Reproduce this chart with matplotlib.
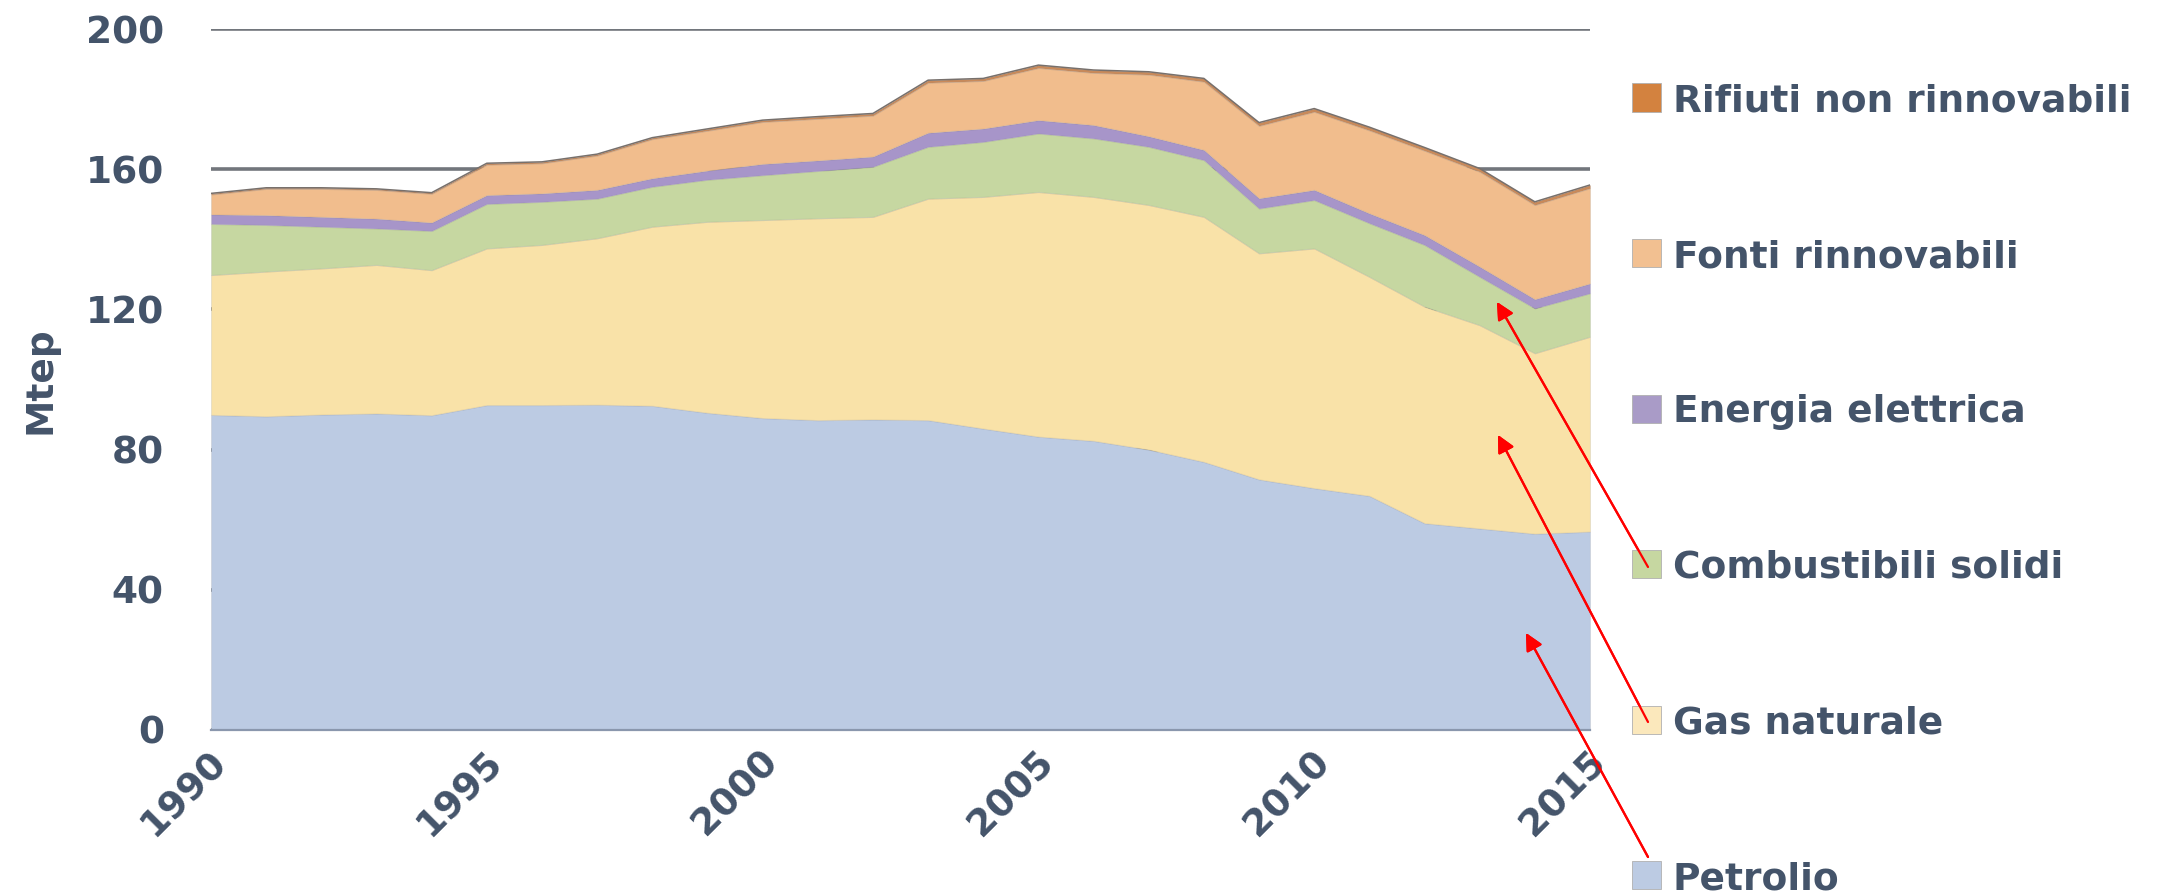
import matplotlib.pyplot as plt
from matplotlib.patches import Rectangle
from matplotlib.transforms import ScaledTranslation

# Consumi finali di energia per fonte (Mtep), 1990-2015
anni = list(range(1990, 2016))
petrolio = [89.9, 89.5, 90.0, 90.3, 89.8, 92.7, 92.7, 92.8, 92.5, 90.5, 89.0, 88.4, 88.6,
            88.4, 86.0, 83.7, 82.5, 80.0, 76.5, 71.5, 69.0, 66.8, 59.0, 57.5, 56.0, 56.6]
gas_naturale = [39.9, 41.3, 41.7, 42.4, 41.4, 44.7, 45.7, 47.5, 51.1, 54.5, 56.5, 57.6, 57.8,
                63.2, 66.1, 69.8, 69.6, 69.8, 69.9, 64.5, 68.4, 62.5, 61.8, 58.0, 51.5, 55.6]
combustibili_solidi = [14.6, 13.3, 11.9, 10.4, 11.2, 12.7, 12.3, 11.3, 11.4, 12.0, 12.8, 13.5, 14.3,
                       14.8, 15.7, 16.7, 16.7, 16.6, 16.2, 12.8, 13.8, 15.3, 17.6, 13.8, 12.8, 12.4]
energia_elettrica = [2.7, 2.8, 2.8, 2.8, 2.4, 2.5, 2.4, 2.5, 2.4, 2.6, 3.2, 3.0, 2.9,
                     4.0, 3.8, 3.8, 3.8, 3.0, 2.9, 2.9, 2.9, 2.8, 2.8, 2.9, 2.6, 2.8]
fonti_rinnovabili = [5.7, 7.5, 8.0, 8.2, 8.2, 8.7, 8.6, 9.8, 11.2, 11.4, 12.0, 11.9, 11.7,
                     14.3, 13.6, 14.9, 14.9, 17.6, 19.5, 20.7, 22.3, 23.7, 24.1, 27.1, 26.9, 27.2]
rifiuti = [0.3, 0.3, 0.3, 0.3, 0.3, 0.4, 0.4, 0.4, 0.4, 0.5, 0.5, 0.6, 0.6,
           0.7, 0.7, 0.8, 0.8, 0.8, 0.9, 0.9, 0.9, 0.9, 0.9, 0.9, 0.9, 0.9]

serie = [petrolio, gas_naturale, combustibili_solidi, energia_elettrica, fonti_rinnovabili, rifiuti]
etichette = ["Petrolio", "Gas naturale", "Combustibili solidi", "Energia elettrica",
             "Fonti rinnovabili", "Rifiuti non rinnovabili"]
colori = ["#bccbe3", "#f9e2a8", "#c6d7a1", "#a795c9", "#f1bd8d", "#c98a5a"]
colori_legenda = ["#bccbe3", "#fbe8bc", "#c6d7a1", "#a99bc7", "#f2c091", "#d3823f"]

testo = "#44546a"
plt.rcParams['font.family'] = ['DejaVu Sans']
plt.rcParams['font.weight'] = 'bold'
fs = 27

fig = plt.figure(figsize=(21.64, 8.94), dpi=100)
W, H = 2164, 894
ax = fig.add_axes([211 / W, 1 - 730 / H, 1379 / W, 701 / H])

ax.stackplot(anni, *serie, colors=colori, linewidth=0.8, edgecolor=(0.5, 0.5, 0.5, 0.15), zorder=2)

# bordo superiore dell'area
totale = [sum(v) for v in zip(*serie)]
ax.plot(anni, totale, color="#77706c", lw=1.1, zorder=3)

ax.set_xlim(1990, 2015)
ax.set_ylim(0, 200)
ax.set_yticks(range(0, 201, 40))
ax.set_xticks(range(1990, 2016, 5))

ax.grid(axis='y', color="#72767c", linewidth=2.6, zorder=0)
ax.set_axisbelow(True)
for s in ['top', 'right', 'left']:
    ax.spines[s].set_visible(False)
ax.spines['bottom'].set_color("#8a97ad")
ax.spines['bottom'].set_linewidth(1.6)
ax.spines['bottom'].set_zorder(4)

ax.tick_params(axis='both', length=0, labelsize=fs, labelcolor=testo)
ax.tick_params(axis='y', pad=34)
ax.tick_params(axis='x', pad=19)
for lbl in ax.get_xticklabels():
    lbl.set_rotation(45)
    lbl.set_rotation_mode('anchor')
    lbl.set_ha('right')
    lbl.set_va('center')
    lbl.set_transform(lbl.get_transform() + ScaledTranslation(0.1, 0, fig.dpi_scale_trans))

fig.text(40 / W, 1 - 380 / H, "Mtep", rotation=90, ha='center', va='center',
         fontsize=fs, color=testo, fontweight='bold')

# legenda a destra, dall'alto verso il basso
righe_y = [97.5, 253, 408.5, 564, 719.5, 875]
for i, k in enumerate(range(5, -1, -1)):
    yc = righe_y[i]
    fig.patches.append(Rectangle((1632 / W, 1 - (yc + 14) / H), 29 / W, 28 / H,
                                 transform=fig.transFigure, facecolor=colori_legenda[k],
                                 edgecolor='#b0b0b0', linewidth=0.6))
    fig.text(1673 / W, 1 - yc / H, etichette[k], ha='left', va='center_baseline',
             fontsize=fs, color=testo, fontweight='bold')

# frecce rosse dalla legenda alle aree
frecce = [((1648, 567), (1497, 302)),
          ((1648, 722), (1498, 435)),
          ((1648, 857), (1526, 633))]
for (x0, y0), (x1, y1) in frecce:
    fig.add_artist(plt.annotate("", xy=(x1 / W, 1 - y1 / H), xycoords='figure fraction',
                                xytext=(x0 / W, 1 - y0 / H), textcoords='figure fraction',
                                arrowprops=dict(arrowstyle='-|>', color='#ff0000', lw=1.6,
                                                mutation_scale=26, shrinkA=0, shrinkB=0)))

fig.savefig("out.png", dpi=100)
